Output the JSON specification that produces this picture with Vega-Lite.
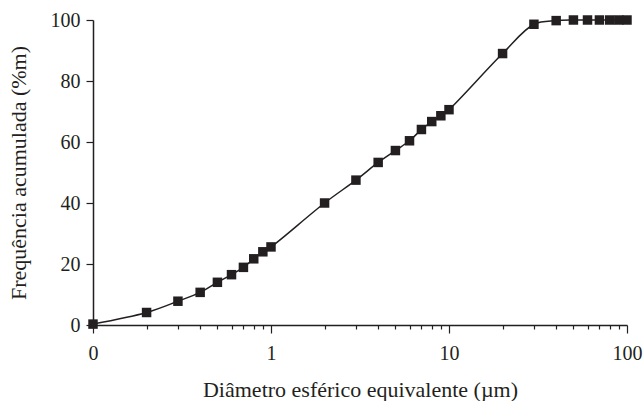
{
  "$schema": "https://vega.github.io/schema/vega-lite/v6.json",
  "autosize": {"type": "none"},
  "padding": {"left": 93, "top": 20, "right": 16, "bottom": 76},
  "width": 534,
  "height": 305,
  "background": "white",
  "config": {
    "view": {"stroke": null},
    "font": "Liberation Serif",
    "axis": {
      "labelFont": "Liberation Serif",
      "titleFont": "Liberation Serif",
      "labelFontSize": 20,
      "titleFontSize": 22,
      "titleFontWeight": "normal",
      "labelColor": "#231f20",
      "titleColor": "#231f20",
      "domainColor": "#231f20",
      "tickColor": "#231f20",
      "domainWidth": 1.5,
      "tickWidth": 1.2,
      "grid": false
    }
  },
  "data": {
    "values": [
      {"d": 0.1, "f": 0.3},
      {"d": 0.2, "f": 4.1},
      {"d": 0.3, "f": 7.8},
      {"d": 0.4, "f": 10.7},
      {"d": 0.5, "f": 14.0},
      {"d": 0.6, "f": 16.5},
      {"d": 0.7, "f": 18.9},
      {"d": 0.8, "f": 21.7},
      {"d": 0.9, "f": 24.0},
      {"d": 1.0, "f": 25.6},
      {"d": 2, "f": 40.0},
      {"d": 3, "f": 47.5},
      {"d": 4, "f": 53.3},
      {"d": 5, "f": 57.2},
      {"d": 6, "f": 60.4},
      {"d": 7, "f": 64.1},
      {"d": 8, "f": 66.7},
      {"d": 9, "f": 68.6},
      {"d": 10, "f": 70.6},
      {"d": 20, "f": 89.0},
      {"d": 30, "f": 98.6},
      {"d": 40, "f": 99.8},
      {"d": 50, "f": 100},
      {"d": 60, "f": 100},
      {"d": 70, "f": 100},
      {"d": 80, "f": 100},
      {"d": 90, "f": 100},
      {"d": 100, "f": 100}
    ]
  },
  "layer": [
    {
      "mark": {"type": "line", "interpolate": "catmull-rom", "color": "#231f20", "strokeWidth": 1.5},
      "encoding": {
        "x": {
          "field": "d", "type": "quantitative",
          "scale": {"type": "log", "domain": [0.1, 100], "nice": false},
          "axis": {
            "orient": "bottom",
            "values": [0.1, 1, 10, 100],
            "labelExpr": "datum.value < 1 ? '0' : format(datum.value, 'd')",
            "tickSize": 8,
            "labelPadding": 10,
            "title": "Diâmetro esférico equivalente (µm)",
            "titlePadding": 16,
            "labelFlush": false,
            "labelOverlap": false
          }
        },
        "y": {
          "field": "f", "type": "quantitative",
          "scale": {"domain": [0, 100], "nice": false},
          "axis": {
            "values": [0, 20, 40, 60, 80, 100],
            "tickSize": 7,
            "labelPadding": 6,
            "title": "Frequência acumulada (%m)",
            "titlePadding": 20
          }
        }
      }
    },
    {
      "mark": {"type": "square", "filled": true, "color": "#231f20", "size": 90, "opacity": 1},
      "encoding": {
        "x": {
          "field": "d", "type": "quantitative",
          "scale": {"type": "log", "domain": [0.1, 100], "nice": false},
          "axis": {
            "orient": "bottom",
            "values": [0.2, 0.3, 0.4, 0.5, 0.6, 0.7, 0.8, 0.9, 2, 3, 4, 5, 6, 7, 8, 9, 20, 30, 40, 50, 60, 70, 80, 90],
            "labels": false,
            "domain": false,
            "tickSize": 4,
            "title": null
          }
        },
        "y": {"field": "f", "type": "quantitative", "axis": null}
      }
    }
  ],
  "resolve": {"axis": {"x": "independent", "y": "independent"}}
}
